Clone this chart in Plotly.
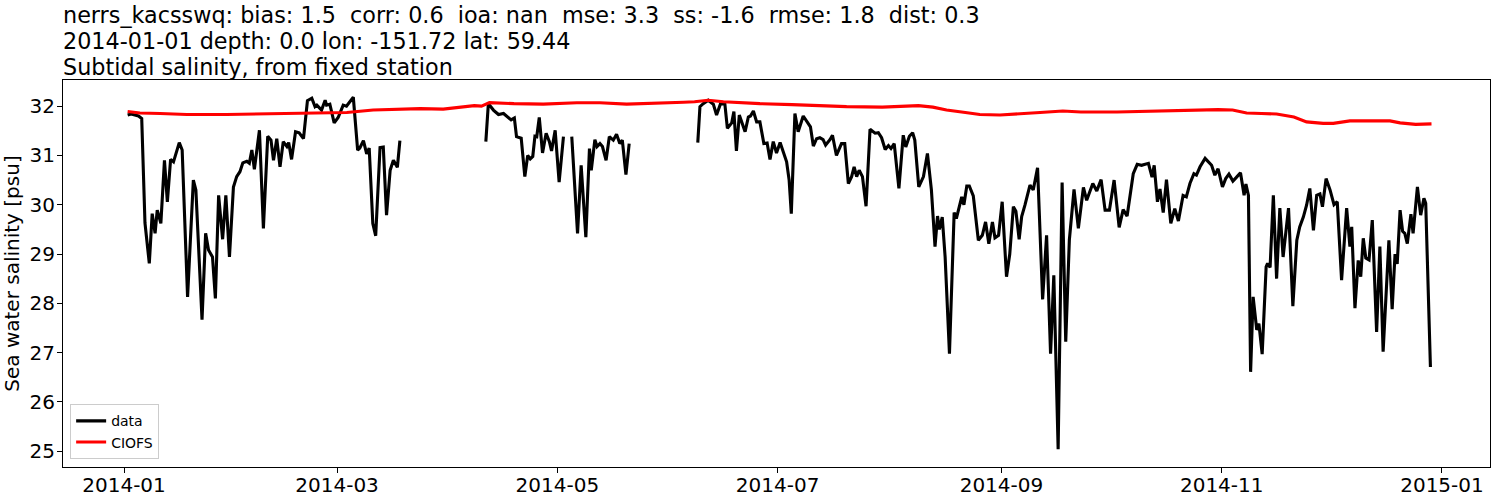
import datetime as dt
import plotly.graph_objects as go

BASE = dt.datetime(2014, 1, 1)

# Observed salinity ("data"): day offset from 2014-01-01 and value; None marks a gap
data_days = [
    1.0, 2.0, 3.0, 4.0, 4.9, 5.8, 7.0, 7.8, 8.6, 9.2, 10.2, 11.2, 12.0, 12.9, 13.7, 14.4, 15.3, 16.1,
    17.6, 19.2, 19.9, 21.6, 22.6, 23.4, 24.5, 25.3, 26.2, 27.3, 28.2, 29.2, 30.3, 31.2, 32.1, 32.9,
    34.0, 34.7, 35.4, 36.1, 37.5, 38.6, 39.8, 40.7, 41.4, 42.3, 43.2, 44.1, 45.1, 45.6, 46.4, 47.5,
    48.5, 49.7, 50.8, 52.0, 52.9, 53.4, 54.7, 55.7, 56.1, 57.0, 58.2, 59.3, 60.7, 61.6, 62.3, 63.5,
    64.7, 65.3, 66.3, 67.2, 67.9, 68.9, 69.7, 70.9, 71.8, 72.7, 73.7, 74.6, 75.7, 76.4,
    None,
    100.2, 100.9, 102.3, 103.7, 105.1, 106.2, 107.2, 108.1, 108.7, 110.0, 111.0, 111.8, 112.5, 113.2,
    113.8, 114.3, 115.0, 115.9, 116.9, 117.8, 118.4, 119.4, 120.5, 121.7,
    None,
    124.0, 125.6, 126.6, 127.9, 128.9, 129.4, 130.4, 131.0, 131.8, 132.5, 133.5, 134.4, 135.5, 136.4,
    137.3, 138.0, 139.0, 139.9,
    None,
    158.9, 159.5, 160.4, 161.8, 163.2, 164.1, 165.2, 166.4, 167.1, 168.3, 168.9, 169.6, 170.4, 172.0,
    172.9, 173.5, 174.3, 175.2, 176.1, 177.2, 178.1, 178.9, 179.8, 180.7, 181.7, 182.6, 183.5, 184.2,
    184.8, 185.8, 186.7, 188.1, 189.5, 190.1, 190.9, 191.8, 192.7, 193.6, 194.3, 195.5, 196.2, 197.3,
    198.7, 199.6, 200.6, 201.5, 202.2, 202.9, 203.6, 204.5, 205.5, 206.6, 208.0, 208.9, 209.8, 210.8,
    211.7, 212.4, 213.3, 214.6, 215.8, 216.5, 217.5, 218.4, 219.0, 220.1, 221.4, 222.5, 223.6, 224.6,
    225.3, 225.8, 226.6, 227.4, 228.6, 229.9, 230.5, 231.3, 232.0, 232.6, 233.4, 234.1, 235.2, 236.6,
    237.7, 238.6, 239.5, 240.5, 241.2, 242.2, 243.2, 244.4, 245.3, 246.3, 247.0, 247.9, 248.6, 249.5,
    250.9, 251.8, 253.0, 254.4, 255.5, 256.6, 257.5, 258.7, 259.8, 260.8, 261.8, 263.1, 264.3, 265.7,
    266.6, 268.3, 269.4, 270.6, 271.7, 272.9, 274.2, 275.6, 276.7, 277.8, 279.5, 280.6, 281.8, 283.7,
    284.7, 285.3, 286.2, 286.9, 287.8, 288.7, 289.9, 291.0, 292.0, 293.3, 294.2, 295.2, 296.3, 297.0,
    298.0, 299.4, 300.3, 301.2, 302.1, 303.0, 304.2, 305.1, 306.0, 307.1, 308.0, 309.2, 310.2, 310.7,
    311.4, 312.0, 312.7, 313.7, 314.3, 315.2, 316.3, 316.7, 317.4, 318.3, 319.2, 320.1, 321.0, 322.5,
    323.7, 324.8, 325.6, 326.6, 327.5, 328.4, 329.4, 330.3, 331.2, 331.9, 332.9, 334.0, 335.1, 336.0,
    337.2, 338.6, 339.5, 340.0, 340.9, 341.8, 342.5, 343.2, 343.9, 344.8, 345.7, 346.9, 347.8, 348.7,
    350.3, 351.2, 352.0, 352.6, 353.4, 354.1, 354.7, 355.4, 356.4, 357.0, 358.2, 359.1, 360.0, 360.5,
    361.8,
]
data_vals = [
    31.82, 31.84, 31.82, 31.80, 31.75, 29.63, 28.81, 29.82, 29.42, 29.89, 29.62, 30.90, 30.06, 30.92,
    30.87, 31.04, 31.26, 31.11, 28.13, 30.50, 30.30, 27.67, 29.42, 29.08, 28.94, 28.10, 30.19, 29.30,
    30.19, 28.94, 30.36, 30.57, 30.67, 30.85, 30.88, 30.84, 31.11, 30.72, 31.51, 29.52, 31.39, 31.31,
    30.90, 31.34, 30.77, 31.28, 31.18, 31.26, 30.92, 31.48, 31.46, 31.34, 32.11, 32.16, 31.99, 32.02,
    31.92, 32.12, 32.02, 32.04, 31.66, 31.77, 32.02, 32.00, 32.06, 32.18, 31.11, 31.15, 31.30, 31.03,
    31.15, 29.62, 29.37, 31.16, 31.17, 29.79, 30.70, 30.90, 30.76, 31.30,
    None,
    31.28, 32.05, 31.92, 31.83, 31.85, 31.78, 31.72, 31.76, 31.38, 31.35, 30.57, 31.00, 30.93, 30.98,
    31.39, 31.38, 31.77, 31.05, 31.45, 31.28, 31.09, 31.51, 30.46, 31.38,
    None,
    31.38, 29.42, 30.80, 29.34, 31.14, 30.70, 31.32, 31.18, 31.24, 31.18, 30.90, 31.38, 31.31, 31.43,
    31.24, 31.31, 30.61, 31.24,
    None,
    31.26, 31.99, 32.05, 32.12, 32.04, 31.82, 32.05, 32.04, 31.55, 31.66, 31.89, 31.09, 31.82, 31.48,
    31.78, 31.80, 31.90, 31.68, 31.68, 31.24, 31.25, 30.92, 31.28, 31.05, 31.26, 31.07, 30.87, 30.50,
    29.82, 31.85, 31.48, 31.80, 31.65, 31.58, 31.19, 31.34, 31.36, 31.32, 31.21, 31.32, 31.41, 31.00,
    31.24, 31.24, 30.43, 30.57, 30.77, 30.57, 30.70, 30.57, 29.97, 31.53, 31.45, 31.46, 31.36, 31.12,
    31.20, 31.14, 31.24, 30.33, 31.41, 31.17, 31.39, 31.46, 31.31, 30.36, 30.57, 31.04, 30.30, 29.15,
    29.77, 29.50, 29.75, 28.94, 26.98, 29.84, 29.72, 29.93, 30.16, 30.00, 30.38, 30.38, 30.18, 29.28,
    29.38, 29.65, 29.21, 29.65, 29.33, 29.38, 30.06, 28.54, 29.00, 29.96, 29.87, 29.30, 29.76, 29.99,
    30.40, 30.30, 30.75, 28.08, 29.38, 26.98, 28.57, 25.04, 30.45, 27.22, 29.28, 30.31, 29.52, 30.35,
    30.09, 30.43, 30.28, 30.51, 29.89, 29.89, 30.50, 29.54, 29.90, 29.77, 30.63, 30.82, 30.80, 30.84,
    30.56, 30.80, 30.06, 30.32, 29.84, 30.51, 29.62, 29.92, 29.67, 30.19, 30.16, 30.43, 30.63, 30.60,
    30.77, 30.94, 30.87, 30.80, 30.60, 30.73, 30.36, 30.53, 30.62, 30.48, 30.55, 30.65, 30.19, 30.42,
    30.19, 26.61, 28.13, 27.46, 27.59, 26.97, 28.74, 28.81, 28.73, 30.19, 28.50, 29.93, 28.94, 29.93,
    27.94, 29.28, 29.55, 29.75, 29.99, 30.33, 29.48, 30.19, 30.22, 29.96, 30.53, 30.30, 30.00, 30.06,
    28.47, 29.93, 29.15, 29.55, 27.90, 28.87, 28.54, 29.32, 28.92, 28.88, 29.69, 27.42, 29.15, 27.02,
    29.28, 27.88, 29.00, 28.80, 29.89, 29.46, 29.42, 29.21, 29.81, 29.42, 30.36, 29.79, 30.13, 30.03,
    26.71,
]

# Model salinity ("CIOFS")
model_days = [
    1.0, 4.4, 10.0, 17.4, 28.4, 37.7, 50.6, 61.7, 69.0, 74.6, 82.0, 88.4, 93.0, 97.0, 99.0, 101.2,
    108.0, 116.1, 125.4, 131.8, 139.2, 145.0, 150.3, 155.0, 158.0, 161.8, 166.0, 170.0, 176.1, 185.0,
    200.1, 210.0, 220.0, 224.0, 227.8, 233.0, 237.0, 242.6, 248.0, 253.7, 260.0, 265.0, 275.0, 285.0,
    295.0, 303.0, 307.0, 310.9, 315.0, 319.2, 324.0, 327.5, 332.1, 334.9, 339.5, 350.6, 353.4, 357.7,
    362.1,
]
model_vals = [
    31.89, 31.86, 31.85, 31.83, 31.83, 31.84, 31.85, 31.87, 31.92, 31.93, 31.95, 31.94, 31.98, 32.01,
    32.00, 32.07, 32.05, 32.04, 32.07, 32.07, 32.04, 32.05, 32.07, 32.08, 32.09, 32.12, 32.09, 32.07,
    32.05, 32.03, 31.99, 31.98, 32.01, 31.98, 31.92, 31.87, 31.83, 31.82, 31.84, 31.87, 31.90, 31.88,
    31.88, 31.90, 31.91, 31.93, 31.92, 31.86, 31.85, 31.84, 31.78, 31.68, 31.65, 31.65, 31.70, 31.70,
    31.66, 31.63, 31.64,
]

title_lines = [
    "nerrs_kacsswq: bias: 1.5  corr: 0.6  ioa: nan  mse: 3.3  ss: -1.6  rmse: 1.8  dist: 0.3",
    "2014-01-01 depth: 0.0 lon: -151.72 lat: 59.44",
    "Subtidal salinity, from fixed station",
]
y_label = "Sea water salinity [psu]"
y_ticks = [25, 26, 27, 28, 29, 30, 31, 32]
x_tick_labels = ["2014-01", "2014-03", "2014-05", "2014-07", "2014-09", "2014-11", "2015-01"]


def to_dates(days):
    return [None if d is None else BASE + dt.timedelta(days=d) for d in days]


FONT = "DejaVu Sans"

fig = go.Figure()
fig.add_trace(go.Scatter(
    x=to_dates(data_days), y=data_vals, mode="lines", name="data",
    line=dict(color="black", width=3.1), connectgaps=False,
))
fig.add_trace(go.Scatter(
    x=to_dates(model_days), y=model_vals, mode="lines", name="CIOFS",
    line=dict(color="red", width=3.1),
))

tick_vals = [dt.datetime(int(t[:4]), int(t[5:]), 1) for t in x_tick_labels]

fig.update_layout(
    width=1500, height=500,
    margin=dict(l=63, r=10, t=80, b=33, autoexpand=False),
    plot_bgcolor="white", paper_bgcolor="white",
    font=dict(family=FONT, color="black", size=20),
    showlegend=True,
    legend=dict(
        x=0.005, y=0.02, xanchor="left", yanchor="bottom",
        bgcolor="rgba(255,255,255,0.8)", bordercolor="#cccccc", borderwidth=1,
        font=dict(family=FONT, size=14, color="black"),
        tracegroupgap=0, itemwidth=30,
    ),
    xaxis=dict(
        range=[BASE + dt.timedelta(days=-16.9), BASE + dt.timedelta(days=378.3)],
        tickmode="array", tickvals=tick_vals, ticktext=x_tick_labels,
        showgrid=False, zeroline=False,
        showline=True, linecolor="black", linewidth=1, mirror=True,
        ticks="outside", ticklen=5, tickwidth=1, tickcolor="black",
        tickfont=dict(family=FONT, size=20), ticklabelstandoff=-5,
    ),
    yaxis=dict(
        range=[24.68, 32.53],
        tickmode="array", tickvals=y_ticks, ticktext=[str(v) for v in y_ticks],
        showgrid=False, zeroline=False,
        showline=True, linecolor="black", linewidth=1, mirror=True,
        ticks="outside", ticklen=5, tickwidth=1, tickcolor="black",
        tickfont=dict(family=FONT, size=20), ticklabelstandoff=-2,
        title=dict(text=y_label, font=dict(family=FONT, size=20), standoff=8),
    ),
)

title_y = [1.168, 1.1008, 1.0336]
for txt, yy in zip(title_lines, title_y):
    fig.add_annotation(
        text=txt.replace("  ", "\u00a0 "), x=0, y=yy, xref="paper", yref="paper",
        xanchor="left", yanchor="middle", showarrow=False,
        font=dict(family=FONT, size=22.3, color="black"), xshift=-2,
    )

fig.write_html(
    "out.html",
    config={"displayModeBar": False},
    post_script="document.body.style.margin='0';document.body.style.padding='0';",
)
